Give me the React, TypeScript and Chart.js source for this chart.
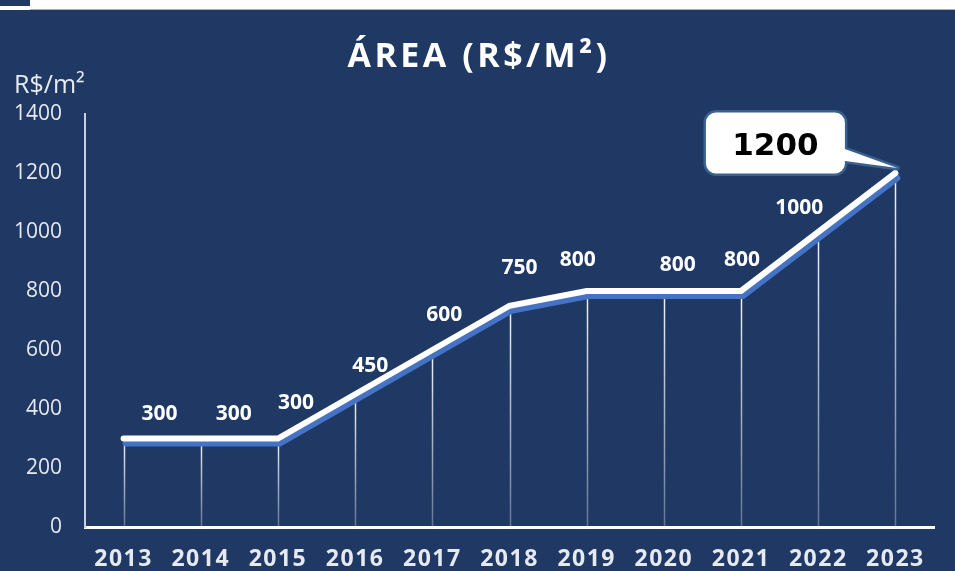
import { useEffect, useRef } from "react";
import { Chart, registerables } from "chart.js";

Chart.register(...registerables);

const years = ["2013", "2014", "2015", "2016", "2017", "2018", "2019", "2020", "2021", "2022", "2023"];
const prices = [300, 300, 300, 450, 600, 750, 800, 800, 800, 1000, 1200];
const yMin = 0;
const yMax = 1400;
const yStep = 200;
const chartTitle = "ÁREA (R$/M²)";
const unitLabel = "R$/m²";

// label ink-centre offsets relative to each point (styling only)
const labelOffsets: [number, number][] = [
  [36, -26], [33, -26], [18, -37], [15, -30], [12, -37], [10, -39],
  [-9, -33], [14, -28], [1, -33], [-19, -26],
];

const NAVY = "#1F3864";

const decor = {
  id: "decor",
  beforeDraw(chart: any) {
    const { ctx, width, height } = chart;
    ctx.save();
    ctx.fillStyle = "#ffffff";
    ctx.fillRect(0, 0, width, height);
    ctx.fillStyle = NAVY;
    ctx.fillRect(0, 10, width, height - 10);
    ctx.fillRect(0, 0, 30, 6);
    ctx.fillStyle = "#a8b0c0";
    ctx.fillRect(30, 9, width - 30, 1);
    // title
    ctx.fillStyle = "#ffffff";
    ctx.font = "bold 34px 'Open Sans'";
    (ctx as any).letterSpacing = "3.5px";
    ctx.textAlign = "center";
    ctx.textBaseline = "alphabetic";
    ctx.fillText(chartTitle, 479, 67);
    (ctx as any).letterSpacing = "0px";
    // unit
    ctx.fillStyle = "#e8ebf2";
    ctx.font = "25px 'Open Sans'";
    ctx.textAlign = "left";
    ctx.fillText(unitLabel, 14, 93);
    ctx.restore();
  },
  beforeDatasetsDraw(chart: any) {
    const { ctx, chartArea } = chart;
    const meta = chart.getDatasetMeta(0);
    ctx.save();
    ctx.lineWidth = 1.5;
    meta.data.forEach((pt: any) => {
      const g = ctx.createLinearGradient(0, pt.y, 0, chartArea.bottom);
      g.addColorStop(0, "rgba(255,255,255,0.95)");
      g.addColorStop(1, "rgba(255,255,255,0.3)");
      ctx.strokeStyle = g;
      ctx.beginPath();
      ctx.moveTo(Math.round(pt.x) + 0.5, pt.y);
      ctx.lineTo(Math.round(pt.x) + 0.5, chartArea.bottom);
      ctx.stroke();
    });
    ctx.restore();
  },
  beforeDatasetDraw(chart: any) {
    const { ctx } = chart;
    ctx.save();
    ctx.shadowColor = "#4472C4";
    ctx.shadowOffsetX = 2;
    ctx.shadowOffsetY = 5;
    ctx.shadowBlur = 0;
  },
  afterDatasetDraw(chart: any) {
    chart.ctx.restore();
  },
  afterDatasetsDraw(chart: any) {
    const { ctx } = chart;
    const meta = chart.getDatasetMeta(0);
    const pts = meta.data;
    ctx.save();
    // value labels
    ctx.fillStyle = "#ffffff";
    ctx.font = "bold 21px 'Open Sans'";
    ctx.textAlign = "center";
    ctx.textBaseline = "alphabetic";
    for (let i = 0; i < pts.length - 1; i++) {
      const [dx, dy] = labelOffsets[i] || [0, -30];
      ctx.fillText(String(prices[i]), pts[i].x + dx, pts[i].y + dy + 7.5);
    }
    // callout for last value
    const p = pts[pts.length - 1];
    const bx = p.x - 189.5;
    const by = p.y - 60.5;
    const bw = 139;
    const bh = 61;
    const r = 10;
    const baseTop = p.y - 24;
    const baseBot = p.y - 12;
    ctx.beginPath();
    ctx.moveTo(bx + r, by);
    ctx.lineTo(bx + bw - r, by);
    ctx.arcTo(bx + bw, by, bx + bw, by + r, r);
    ctx.lineTo(bx + bw, baseTop);
    ctx.lineTo(p.x + 2, p.y - 5);
    ctx.lineTo(bx + bw, baseBot);
    ctx.lineTo(bx + bw, by + bh - r);
    ctx.arcTo(bx + bw, by + bh, bx + bw - r, by + bh, r);
    ctx.lineTo(bx + r, by + bh);
    ctx.arcTo(bx, by + bh, bx, by + bh - r, r);
    ctx.lineTo(bx, by + r);
    ctx.arcTo(bx, by, bx + r, by, r);
    ctx.closePath();
    ctx.lineWidth = 5;
    ctx.lineJoin = "round";
    ctx.strokeStyle = "#3A6090";
    ctx.stroke();
    ctx.fillStyle = "#ffffff";
    ctx.fill();
    ctx.fillStyle = "#000000";
    ctx.font = "bold 31px 'DejaVu Sans'";
    ctx.textAlign = "center";
    ctx.fillText(String(prices[prices.length - 1]), p.x - 120, p.y - 18);
    ctx.restore();
    (ctx as any).letterSpacing = "1.5px";
  },
  afterDraw(chart: any) {
    (chart.ctx as any).letterSpacing = "0px";
  },
};

export default function App() {
  const ref = useRef<HTMLCanvasElement>(null);
  useEffect(() => {
    const chart = new Chart(ref.current as HTMLCanvasElement, {
      type: "line",
      data: {
        labels: years,
        datasets: [
          {
            data: prices,
            borderColor: "#ffffff",
            borderWidth: 6,
            borderCapStyle: "round",
            borderJoinStyle: "miter",
            pointRadius: 0,
            tension: 0,
            fill: false,
          },
        ],
      },
      options: {
        animation: false,
        responsive: false,
        maintainAspectRatio: false,
        devicePixelRatio: 1,
        layout: { padding: { top: 114, right: 21, left: 0, bottom: 0 } },
        plugins: {
          legend: { display: false },
          title: { display: false },
          tooltip: { enabled: false },
        },
        scales: {
          x: {
            offset: true,
            grid: { display: false, drawTicks: false },
            border: { display: true, color: "#ffffff", width: 3 },
            ticks: {
              color: "#e6e9f0",
              font: { family: "'Open Sans'", size: 23, weight: "bold" },
              padding: 19,
              maxRotation: 0,
              autoSkip: false,
              z: 1,
            },
            afterFit: (s: any) => {
              s.height = 44;
            },
          },
          y: {
            min: yMin,
            max: yMax,
            grid: { display: false, drawTicks: false },
            border: { display: true, color: "#c9d1df", width: 2 },
            ticks: {
              stepSize: yStep,
              color: "#e6e9f0",
              font: { family: "'Open Sans'", size: 21 },
              padding: 23,
              callback: (v: any) => String(v),
            },
            afterFit: (s: any) => {
              s.width = 85;
            },
          },
        },
      },
      plugins: [decor],
    } as any);
    return () => chart.destroy();
  }, []);
  return (
    <div style={{ position: "fixed", left: 0, top: 0, width: 955, height: 571 }}>
      <canvas ref={ref} width={955} height={571} style={{ display: "block", width: 955, height: 571 }} />
    </div>
  );
}
